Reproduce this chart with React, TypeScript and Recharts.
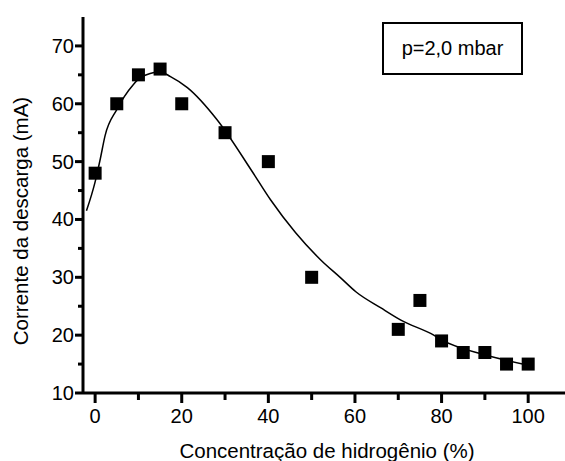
import React from 'react';
import { ComposedChart, Scatter, Line, XAxis, YAxis } from 'recharts';

// measured points: hydrogen concentration (%) vs discharge current (mA)
const hydrogenPct = [0, 5, 10, 15, 20, 30, 40, 50, 70, 75, 80, 85, 90, 95, 100];
const currentMa = [48, 60, 65, 66, 60, 55, 50, 30, 21, 26, 19, 17, 17, 15, 15];

// fitted curve
const fitPct = [-2, 0, 1.2, 2.3, 5, 8.8, 10.4, 15, 17.4, 21.3, 28.2, 36, 40.5, 46.3, 52.1, 56.7, 60.2, 66, 70.6, 78.2, 80, 90, 100];
const fitMa = [41.5, 46.5, 50.5, 54.5, 59, 63.3, 64.5, 65.5, 64.7, 62.8, 57.2, 48.6, 43.4, 37.7, 33, 29.9, 27.5, 24.7, 22.6, 20, 19.2, 16.6, 14.8];

const xTicks = [0, 10, 20, 30, 40, 50, 60, 70, 80, 90, 100];
const yTicks = [10, 15, 20, 25, 30, 35, 40, 45, 50, 55, 60, 65, 70];

const points = hydrogenPct.map((x, i) => ({ x, y: currentMa[i] }));
const fit = fitPct.map((x, i) => ({ x, y: fitMa[i] }));

const W = 565;
const H = 461;
const AXIS_X = 83;
const AXIS_Y = 393;
const FONT = 'Liberation Sans, Arial, sans-serif';

const XTick = (props: any) => {
  const { x, payload } = props;
  const major = payload.value % 20 === 0;
  return (
    <g>
      <line x1={x} x2={x} y1={AXIS_Y} y2={AXIS_Y + (major ? 10 : 7)} stroke="#000" strokeWidth={3} />
      {major && (
        <text x={x} y={AXIS_Y + 30} textAnchor="middle" fontSize={20} fontFamily={FONT} fill="#000">
          {payload.value}
        </text>
      )}
    </g>
  );
};

const YTick = (props: any) => {
  const { y, payload } = props;
  const major = payload.value % 10 === 0;
  return (
    <g>
      <line x1={AXIS_X - (major ? 8 : 5)} x2={AXIS_X} y1={y} y2={y} stroke="#000" strokeWidth={3} />
      {major && (
        <text x={AXIS_X - 9} y={y + 7} textAnchor="end" fontSize={20} fontFamily={FONT} fill="#000">
          {payload.value}
        </text>
      )}
    </g>
  );
};

const SquareMark = (props: any) => {
  const { cx, cy } = props;
  return <rect x={cx - 6.5} y={cy - 6.5} width={13} height={13} fill="#000" />;
};

export default function App() {
  return (
    <div style={{ position: 'relative', width: W, height: H, background: '#fff' }}>
      <style>{'body{margin:0}'}</style>
      <ComposedChart width={W} height={H} margin={{ top: 17, right: 0, bottom: 0, left: 0 }}>
        <XAxis
          type="number"
          dataKey="x"
          domain={[-2.8, 108.5]}
          ticks={xTicks}
          height={68}
          axisLine={{ stroke: '#000', strokeWidth: 3 }}
          tickLine={false}
          tick={<XTick />}
          interval={0}
          allowDataOverflow
        />
        <YAxis
          type="number"
          dataKey="y"
          domain={[10, 75]}
          ticks={yTicks}
          width={83}
          axisLine={{ stroke: '#000', strokeWidth: 3 }}
          tickLine={false}
          tick={<YTick />}
          interval={0}
          allowDataOverflow
        />
        <Line
          data={fit}
          dataKey="y"
          type="monotone"
          stroke="#000"
          strokeWidth={1.5}
          dot={false}
          isAnimationActive={false}
        />
        <Scatter data={points} dataKey="y" fill="#000" shape={<SquareMark />} isAnimationActive={false} />
        <text x={327} y={458} textAnchor="middle" fontSize={20.5} fontFamily={FONT} fill="#000">
          Concentração de hidrogênio (%)
        </text>
        <text
          x={28}
          y={221}
          textAnchor="middle"
          fontSize={20.5}
          fontFamily={FONT}
          fill="#000"
          transform="rotate(-90, 28, 221)"
        >
          Corrente da descarga (mA)
        </text>
      </ComposedChart>
      <div
        style={{
          position: 'absolute',
          left: 382,
          top: 22,
          width: 141,
          height: 53,
          boxSizing: 'border-box',
          border: '2px solid #000',
          display: 'flex',
          alignItems: 'center',
          justifyContent: 'center',
          fontFamily: FONT,
          fontSize: 20,
          color: '#000',
          background: '#fff',
        }}
      >
        p=2,0 mbar
      </div>
    </div>
  );
}
